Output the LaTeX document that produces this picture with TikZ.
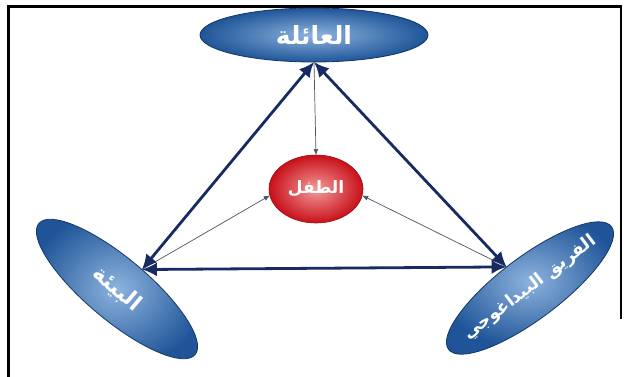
\documentclass[tikz,border=0pt]{standalone}
\usepackage{fontspec}
\newfontfamily\arabicfont[Script=Arabic]{DejaVu Sans}
\TeXXeTstate=1
\usepackage{tikz}
\usetikzlibrary{arrows.meta, shapes.geometric}

\definecolor{navy}{HTML}{172A62}
\definecolor{thinline}{HTML}{4A5468}
\definecolor{blueedge}{HTML}{143766}
\definecolor{bluedark}{HTML}{1F5598}
\definecolor{bluelight}{HTML}{8DB3DE}
\definecolor{reddark}{HTML}{C8101A}
\definecolor{redlight}{HTML}{F49A9A}

\begin{document}
\begin{tikzpicture}[x=1pt, y=-1pt,
    bluebox/.style={ellipse, draw=blueedge, line width=0.8pt, inner color=bluelight,
        outer color=bluedark, inner sep=0pt, outer sep=0pt, text=white,
        font=\arabicfont\bfseries},
    redbox/.style={ellipse, draw=reddark!80!black, line width=0.6pt, inner color=redlight,
        outer color=reddark, inner sep=0pt, outer sep=0pt, text=white,
        font=\arabicfont\bfseries\fontsize{17}{20}\selectfont},
    bigarr/.style={{Latex[length=15pt,width=14pt]}-{Latex[length=15pt,width=14pt]},
        line width=2.8pt, navy},
    smallarr/.style={-{Latex[length=6pt,width=5pt]}, line width=0.7pt, thinline}
]
    \useasboundingbox (0,0) rectangle (629,376);
    \fill[white] (0,0) rectangle (629,376);

    % Frame
    \draw[line width=2.6pt, line cap=rect] (8.5,376) -- (8.5,6.5) -- (621,6.5) -- (621,318);

    % Ellipses
    \node[bluebox, minimum width=228, minimum height=54,
        font=\arabicfont\bfseries\fontsize{25}{28}\selectfont]
        (family) at (314,35) {\makebox[0pt]{\beginR العائلة\endR}};
    \node[redbox, minimum width=94, minimum height=68] (child) at (316,189)
        {\makebox[0pt]{\beginR الطفل\endR}};
    \node[bluebox, minimum width=204, minimum height=62, rotate=-40,
        font=\arabicfont\bfseries\fontsize{22}{25}\selectfont]
        (milieu) at (117,289) {\makebox[0pt]{\beginR البيئة\endR}};
    \node[bluebox, minimum width=204, minimum height=62, rotate=37,
        font=\arabicfont\bfseries\fontsize{17.5}{20}\selectfont]
        (team) at (530,288) {\makebox[0pt]{\beginR الفريق البيداغوجي\endR}};

    % Thin arrows towards the child
    \draw[smallarr] (family.south) -- (child.north);
    \draw[smallarr] (milieu.78) -- (child.188);
    \draw[smallarr] (team.101) -- (child.-8);

    % Thick arrows
    \draw[bigarr] (family.south) -- (milieu.78);
    \draw[bigarr] (family.south) -- (team.101);
    \draw[bigarr] (milieu.78) -- (team.101);

\end{tikzpicture}
\end{document}
